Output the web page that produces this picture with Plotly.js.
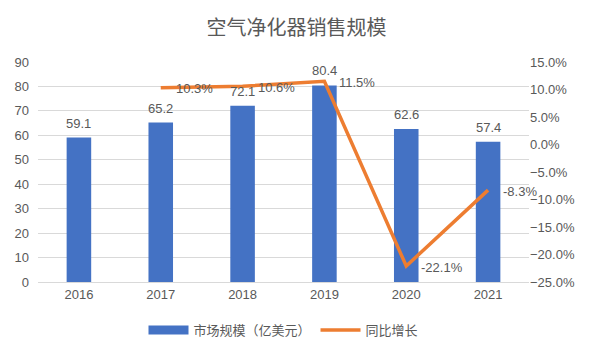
<!DOCTYPE html>
<html><head><meta charset="utf-8">
<script src="https://cdn.plot.ly/plotly-3.0.1.min.js"></script>
<style>html,body{margin:0;padding:0;background:#fff}#c{width:593px;height:353px}</style>
</head><body><div id="c"></div>
<script>
const years = ['2016','2017','2018','2019','2020','2021'];
const marketSize = [59.1, 65.2, 72.1, 80.4, 62.6, 57.4];
const growthYears = ['2017','2018','2019','2020','2021'];
const growthPct = [10.3, 10.6, 11.5, -22.1, -8.3];

const font = 'Liberation Sans, Noto Sans CJK SC, sans-serif';
const grey = '#595959';

const bar = {
  type: 'bar', x: years, y: marketSize, name: '市场规模（亿美元）',
  marker: {color: '#4472C4'}, width: 0.3, showlegend: false
};
const barLegend = {
  type: 'scatter', mode: 'lines', x: [years[0]], y: [null], name: '市场规模（亿美元）',
  line: {color: '#4472C4', width: 9}, showlegend: true
};
const line = {
  type: 'scatter', mode: 'lines', x: growthYears, y: growthPct, yaxis: 'y2',
  name: '同比增长', line: {color: '#ED7D31', width: 3.5}, cliponaxis: false
};

// category positions on the x axis, looked up from the year labels
const catIndex = yr => years.indexOf(yr);

const barLabels = years.map((yr, i) => ({
  x: catIndex(yr), y: marketSize[i], xref: 'x', yref: 'y', text: marketSize[i].toFixed(1),
  showarrow: false, xanchor: 'center', yanchor: 'bottom', yshift: 5,
  font: {size: 13, color: grey, family: font}
}));
const lineLabels = growthYears.map((yr, i) => ({
  x: catIndex(yr), y: growthPct[i], xref: 'x', yref: 'y2', text: growthPct[i].toFixed(1) + '%',
  showarrow: false, xanchor: 'left', yanchor: 'middle', xshift: 13, yshift: -1,
  font: {size: 13, color: grey, family: font}
}));

const layout = {
  width: 593, height: 353,
  margin: {l: 38, r: 64, t: 62, b: 71},
  paper_bgcolor: '#fff', plot_bgcolor: '#fff',
  font: {family: font, color: grey, size: 13},
  title: {text: '空气净化器销售规模', x: 0.5, xanchor: 'center', y: 0.92, yanchor: 'middle',
          font: {size: 20, color: grey, family: 'Noto Sans CJK SC, sans-serif'}},
  showlegend: true,
  legend: {orientation: 'h', x: 0.5, xanchor: 'center', yref: 'container', y: 0.065, yanchor: 'middle',
           itemwidth: 40, font: {size: 13, color: grey, family: 'Noto Sans CJK SC, sans-serif'}},
  annotations: barLabels.concat(lineLabels),
  xaxis: {type: 'category', categoryorder: 'array', categoryarray: years, range: [-0.5, years.length - 0.5],
          showgrid: false, showline: true, linecolor: '#D9D9D9', ticks: '',
          tickfont: {size: 13, color: grey}},
  yaxis: {range: [0, 90], dtick: 10, showgrid: true, gridcolor: '#D9D9D9', zeroline: false,
          showline: false, ticks: '', ticklabelstandoff: 8, tickfont: {size: 13, color: grey}},
  yaxis2: {overlaying: 'y', side: 'right', range: [-25, 15], dtick: 5, showgrid: false,
           zeroline: false, ticksuffix: '%', tickformat: '.1f', ticks: '',
           tickfont: {size: 13, color: grey}}
};
Plotly.newPlot('c', [bar, barLegend, line], layout, {displayModeBar: false, staticPlot: true});
</script></body></html>
